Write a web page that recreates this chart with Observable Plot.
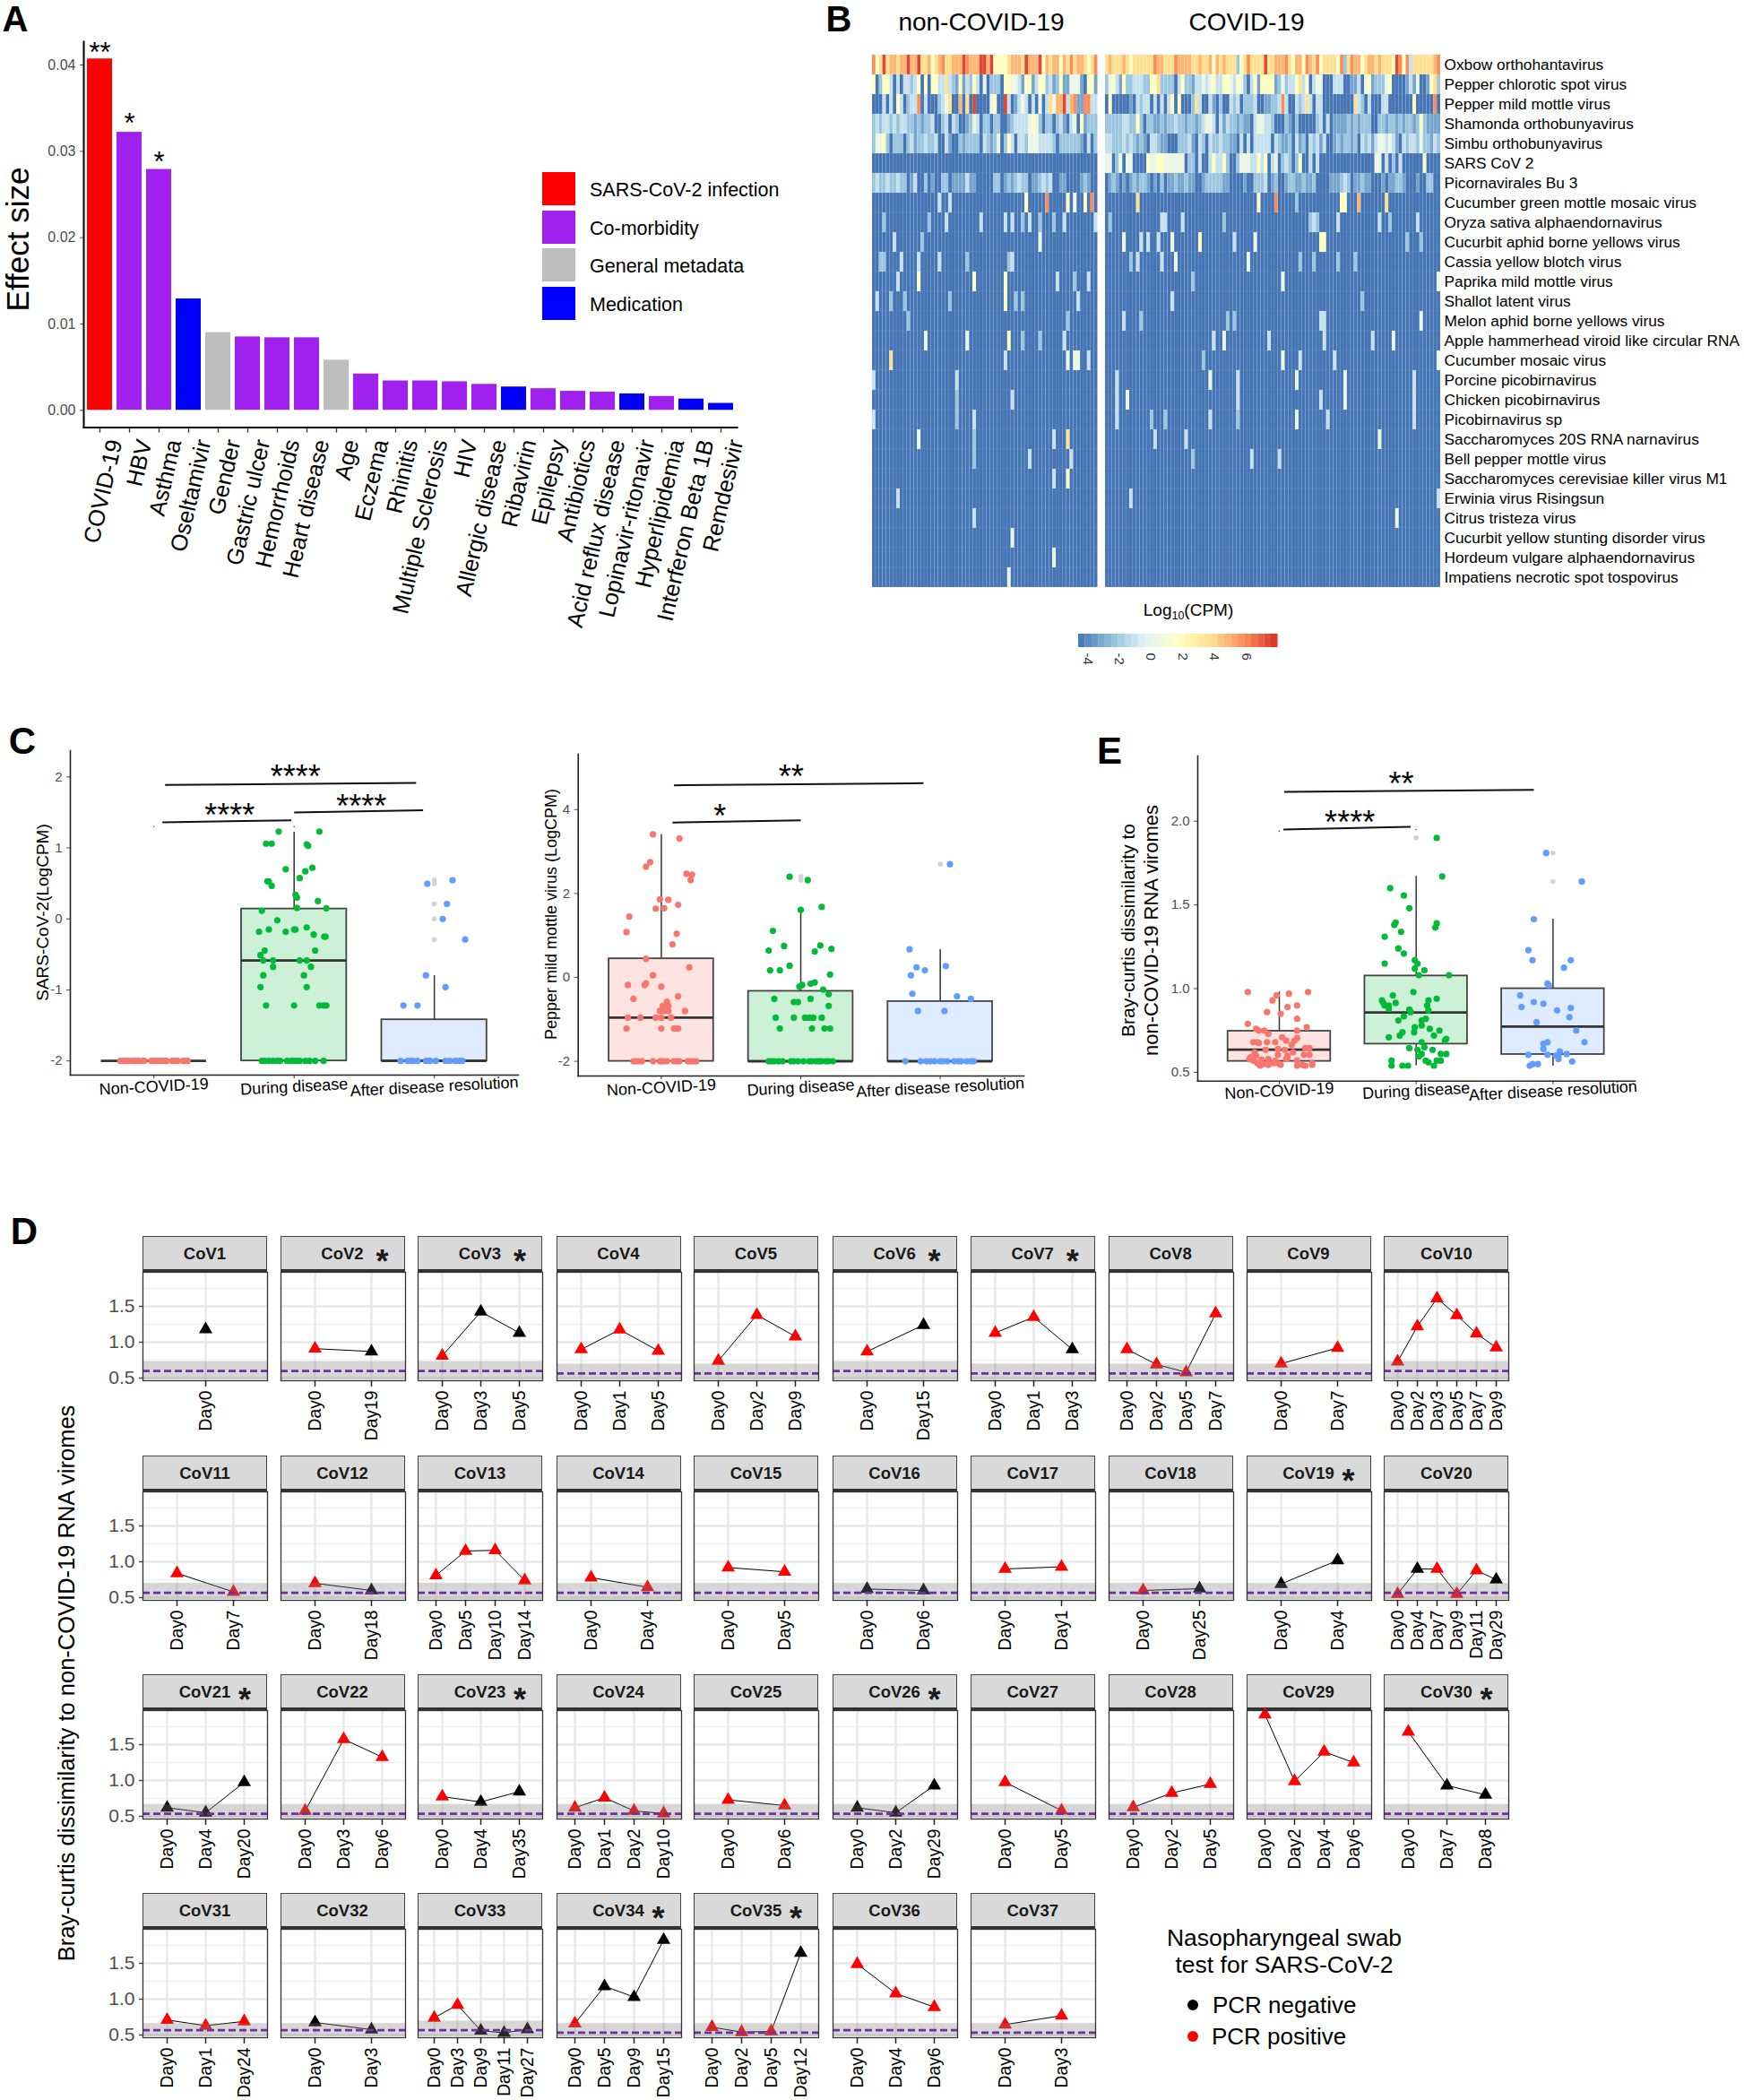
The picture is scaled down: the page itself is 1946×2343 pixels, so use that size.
<!DOCTYPE html>
<html>
<head>
<meta charset="utf-8">
<script src="https://cdn.jsdelivr.net/npm/d3@7"></script>
<script src="https://cdn.jsdelivr.net/npm/@observablehq/plot@0.6"></script>
<style>
html,body{margin:0;padding:0;background:#fff}
#fig{position:relative;width:1946px;height:2343px;overflow:hidden;background:#fff;font-family:'Liberation Sans',Arial,sans-serif;color:#000}
#fig div{position:absolute}
</style>
</head>
<body>
<div id="fig"></div>
<script>
/* ---------- Panel A ---------- */
const effectNames = ["COVID-19","HBV","Asthma","Oseltamivir","Gender","Gastric ulcer","Hemorrhoids","Heart disease","Age","Eczema","Rhinitis","Multiple Sclerosis","HIV","Allergic disease","Ribavirin","Epilepsy","Antibiotics","Acid reflux disease","Lopinavir-ritonavir","Hyperlipidemia","Interferon Beta 1B","Remdesivir"];
const effectValues = [0.0407,0.0322,0.0279,0.0129,0.0090,0.0085,0.0084,0.0084,0.0058,0.0042,0.0034,0.0034,0.0033,0.0030,0.0027,0.0025,0.0022,0.0021,0.0019,0.0016,0.0013,0.0008];
const effectGroups = ["S","C","C","M","G","C","C","C","G","C","C","C","C","C","M","C","C","C","M","C","M","M"];
const effectStars = [["COVID-19",0.0419,"**"],["HBV",0.0337,"*"],["Asthma",0.0292,"*"]];
const groupKeys = ["S","C","G","M"];
const groupLabels = ["SARS-CoV-2 infection","Co-morbidity","General metadata","Medication"];
const groupColors = ["#FF0000","#A020F0","#BEBEBE","#0000FF"];

/* ---------- Panel B ---------- */
const heatRows = ["Oxbow orthohantavirus","Pepper chlorotic spot virus","Pepper mild mottle virus","Shamonda orthobunyavirus","Simbu orthobunyavirus","SARS CoV 2","Picornavirales Bu 3","Cucumber green mottle mosaic virus","Oryza sativa alphaendornavirus","Cucurbit aphid borne yellows virus","Cassia yellow blotch virus","Paprika mild mottle virus","Shallot latent virus","Melon aphid borne yellows virus","Apple hammerhead viroid like circular RNA","Cucumber mosaic virus","Porcine picobirnavirus","Chicken picobirnavirus","Picobirnavirus sp","Saccharomyces 20S RNA narnavirus","Bell pepper mottle virus","Saccharomyces cerevisiae killer virus M1","Erwinia virus Risingsun","Citrus tristeza virus","Cucurbit yellow stunting disorder virus","Hordeum vulgare alphaendornavirus","Impatiens necrotic spot tospovirus"];
const nonCount = 65, covCount = 97;
/* level (0-9) -> Log10(CPM) */
const levelValues = [-4.56,-3.2,-2.2,-1.1,0.4,1.7,3.8,4.9,5.9,7.5];
const denseNon = [
"8569677677"+"9779667567"+"8667779877"+"7997955556"+"7776977795"+"7677576867"+"76568",
"5025530303"+"3235050553"+"3632151325"+"3040222055"+"4431551355"+"2312511444"+"10551",
"0003030530"+"2338030002"+"3460070609"+"0000450093"+"0134303040"+"3647793781"+"18833",
"2323323233"+"2212122300"+"2303200124"+"3022022001"+"2333345420"+"2202310340"+"51222",
"2445202220"+"2312232230"+"0310021222"+"2032124025"+"3033244433"+"3320222222"+"10302",
"0000000000"+"0000000000"+"0000000000"+"0000000000"+"0000000000"+"0000000000"+"00000",
"2322322322"+"0130020100"+"2201111311"+"0000022012"+"1232201123"+"2300110000"+"12100"
];
const denseCov = [
"6766676566"+"6666877666"+"8777766766"+"7576766625"+"6866669667"+"7786577587"+"6856666582"+"6877567767"+"6665985836"+"6666678",
"2453152233"+"3225562222"+"0352213343"+"4533554354"+"2035155551"+"2423356350"+"3440003330"+"0113045122"+"2450000131"+"4001562",
"0500000103"+"2330303035"+"0500026300"+"3102003230"+"2223001122"+"3830032363"+"0330000000"+"0063203000"+"3300000005"+"0000080",
"2222233225"+"2022112122"+"3221221234"+"4303132212"+"1103443320"+"0021020000"+"0230301111"+"2121222002"+"2122121221"+"2521111",
"3322232321"+"2103321100"+"0222310320"+"3223221103"+"0303333303"+"2112031203"+"2313001212"+"2120323134"+"4343103233"+"2422132",
"4402404400"+"0054455444"+"4440220300"+"3533520024"+"4433535034"+"0232025003"+"0300000000"+"0000000044"+"0302030000"+"0050000",
"0121010121"+"2210102011"+"2112110012"+"2222110000"+"1002223012"+"0012211211"+"2000011123"+"2011211000"+"1011221000"+"1002200"
];
/* rows 8..27: [column, level] stripes on the dark-blue ground */
const sparseNon = [
[[19,3],[22,3],[44,5],[50,8],[56,5],[58,4],[61,5],[63,8]],
[[3,2],[16,2],[21,3],[31,3],[38,3],[40,3],[43,2],[45,3],[48,2],[52,2],[55,3],[64,3]],
[[6,3],[14,2],[48,4]],
[[2,2],[3,2],[8,3],[13,3],[19,3],[27,2],[39,2],[40,3]],
[[7,3],[13,5],[29,5],[38,5],[53,3],[58,2],[62,3]],
[[1,3],[5,2],[9,2],[22,2],[38,5],[41,2],[43,2],[59,3]],
[[10,2],[56,2]],
[[15,4],[27,4],[39,5],[43,2],[48,2],[55,3]],
[[5,6],[38,3],[56,4],[58,4],[59,4],[62,3]],
[[0,3],[24,3]],
[[24,2],[40,3]],
[[0,3],[24,2],[29,3]],
[[13,4],[29,2],[52,3],[56,6]],
[[29,2],[45,3],[57,3]],
[[52,3],[56,5]],
[[7,3]],
[[29,3]],
[[40,4]],
[[52,4]],
[[39,4]]
];
const sparseCov = [
[[9,6],[44,5],[49,8],[55,2],[68,5],[69,5],[73,7],[81,6]],
[[1,2],[16,3],[17,3],[22,3],[34,2],[59,2],[60,3],[61,2],[67,3],[79,3],[82,2],[90,3]],
[[5,4],[10,3],[12,3],[15,3],[19,4],[27,5],[37,3],[43,4],[62,5],[63,5],[87,2],[91,2]],
[[7,2],[9,3],[16,3],[20,4],[41,4],[56,2],[60,2],[67,2],[72,2]],
[[25,2],[51,4],[96,4]],
[[19,3],[74,2]],
[[5,3],[10,2],[35,2],[37,2],[62,3],[63,3],[91,4]],
[[31,3],[34,4],[47,3],[63,3],[77,3],[83,4]],
[[28,2],[51,4],[56,3],[66,3],[96,4]],
[[3,3],[30,4],[38,3],[55,4],[69,4],[89,3]],
[[3,3],[6,4],[38,3],[62,3],[69,4],[89,3]],
[[3,3],[13,2],[17,2],[30,3],[38,2],[55,4],[64,3],[89,3]],
[[14,3],[23,3],[79,4]],
[[25,2],[42,3],[50,3]],
[],
[[7,3],[96,3]],
[[84,4]],
[],
[],
[]
];
const colorNodes = [-4.56,-2.47,-0.37,1.72,3.81,5.91,8];
const colorStops = ["#4575B4","#91BFDB","#E0F3F8","#FFFFBF","#FEE090","#FC8D59","#D73027"];
const barTicks = [-4,-2,0,2,4,6];

/* ---------- Panels C and E ---------- */
const boxNames = ["Non-COVID-19","During disease","After disease resolution"];
const dotColors = ["#F8766D","#00BA38","#619CFF"];
const boxFills = ["#FEE3E1","#CCF1D7","#DFEBFF"];

const c1Boxes = [[-2,-2,-2,-2,-2],[-2,-0.585,0.14,-2,1.22],[-2,-2,-1.42,-2,-0.8]];
const c1Floor = -2;
const c1RedFloor = [.76,.78,.80,.82,.85,.87,.89,.92,.93,.98,1.0,1.02,1.04,1.06,1.08,1.09,1.13,1.15,1.17,1.21,1.22,1.24];
const c1GreenFloor = [1.77,1.79,1.82,1.85,1.88,1.90,1.95,1.98,2.0,2.02,2.04,2.08,2.11,2.15,2.21];
const c1BlueFloor = [2.76,2.81,2.83,2.85,2.88,2.94,2.96,2.97,3.01,3.08,3.11,3.15,3.18,3.20];
const c1Red = [];
const c1Green = [[1.89,1.23],[2.18,1.23],[1.80,1.06],[1.84,1.06],[2.09,1.05],[2.10,1.03],[1.94,.70],[2.13,.72],[2.08,.67],[2.04,.575],[1.81,.53],[1.82,.525],[1.84,.465],[2.01,.34],[2.02,.30],[2.17,.25],[2.02,.155],[2.23,.15],[1.77,.115],[1.88,-.02],[2.09,-.12],[1.82,-.15],[1.75,-.18],[1.94,-.18],[2.0,-.15],[2.01,-.15],[2.14,-.22],[2.215,-.25],[2.225,-.25],[1.79,-.445],[2.15,-.445],[1.76,-.51],[1.78,-.585],[1.85,-.585],[2.04,-.585],[2.09,-.585],[1.85,-.675],[2.12,-.675],[1.78,-.795],[2.07,-.795],[1.76,-.96],[2.09,-.96],[1.80,-1.22],[2.0,-1.22],[2.18,-1.22],[2.21,-1.22],[2.23,-1.22]];
const c1Blue = [[2.95,.495],[3.13,.546],[3.09,.21],[3.06,0],[3.22,-.29],[2.94,-.795],[3.08,-.96],[2.78,-1.22],[2.88,-1.22]];
const c1Grey = [[3,.545],[3,.495],[3,.21],[3,0],[3,-.29]];
const c1Specks = [[1,1.3],[2,1.3]];
const c1Sig = [[1.08,1.886,2.87,1.916],[1.06,1.36,1.98,1.39],[2.0,1.50,2.92,1.53]];
const c1Stars = [[2.01,2.07,"****"],[1.54,1.52,"****"],[2.48,1.65,"****"]];

const c2Boxes = [[-2,-0.96,0.445,-2,3.41],[-2,-2,-0.33,-2,1.61],[-2,-2,-0.575,-2,0.665]];
const c2Floor = -2;
const c2RedFloor = [.80,.82,.84,.86,.94,.99,1.0,1.02,1.04,1.09,1.11,1.13,1.19,1.21,1.23,1.25];
const c2GreenFloor = [1.77,1.79,1.81,1.84,1.87,1.93,1.95,1.98,2.02,2.06,2.08,2.11,2.13,2.15,2.18,2.20,2.23];
const c2BlueFloor = [2.75,2.86,2.90,2.93,2.96,3.0,3.02,3.05,3.10,3.13,3.15,3.19,3.22,3.24];
const c2Red = [[.94,3.41],[1.13,3.31],[.92,2.75],[.89,2.64],[1.18,2.47],[1.22,2.45],[1.21,2.32],[.99,1.86],[1.05,1.85],[1.12,1.73],[.96,1.64],[1.02,1.65],[.77,1.45],[.75,1.08],[1.11,1.04],[1.08,.79],[.89,.445],[1.20,.24],[.94,.05],[.76,-.18],[.89,-.14],[.88,-.18],[1.0,-.22],[.80,-.51],[1.12,-.45],[1.04,-.58],[1.01,-.68],[1.05,-.68],[.99,-.80],[1.02,-.80],[1.05,-.80],[1.17,-.80],[.76,-.96],[.85,-.96],[.96,-.96],[1.0,-.96],[1.07,-.96],[.75,-1.22],[1.0,-1.22],[1.09,-1.22],[1.11,-1.22],[1.12,-1.22]];
const c2Green = [[1.92,2.40],[2.05,2.32],[2.15,1.68],[2.0,1.61],[1.80,1.11],[1.88,.75],[2.14,.76],[1.77,.64],[2.10,.62],[2.22,.68],[1.92,.28],[1.78,.17],[1.85,.17],[2.21,.07],[2.10,-.12],[2.07,-.15],[2.01,-.18],[1.99,-.22],[2.16,-.29],[2.20,-.40],[1.81,-.51],[2.07,-.51],[1.95,-.59],[1.98,-.59],[2.20,-.68],[1.82,-.96],[1.95,-.96],[2.03,-.96],[2.06,-.96],[2.09,-.96],[2.15,-.96],[1.85,-1.22],[2.08,-1.22],[2.17,-1.22],[2.21,-1.22]];
const c2Blue = [[3.07,2.70],[2.78,.67],[3.04,.27],[2.83,.24],[2.89,.17],[2.79,.05],[2.80,-.39],[3.12,-.45],[3.22,-.51],[2.84,-.80],[3.03,-.80]];
const c2Grey = [[2,2.40],[2,2.32],[3,2.70]];
const c2Sig = [[1.09,4.58,2.88,4.63],[1.08,3.69,2.0,3.745]];
const c2Stars = [[1.93,4.89,"**"],[1.42,3.96,"*"]];

const eBoxes = [[.566,.636,.746,.53,.98],[.669,.858,1.076,.54,1.67],[.607,.773,1.0,.537,1.415]];
const eRed = [[.77,.98],[.98,.96],[1.07,.97],[1.21,.98],[.95,.93],[1.06,.89],[1.13,.90],[.91,.86],[1.01,.85],[1.13,.82],[.77,.79],[.83,.76],[.85,.75],[.89,.75],[.92,.73],[1.20,.77],[1.13,.75],[1.02,.71],[1.05,.69],[1.13,.705],[1.11,.69],[.81,.68],[.84,.68],[.85,.675],[.91,.68],[.97,.68],[1.09,.665],[1.19,.645],[1.22,.645],[.90,.635],[.99,.64],[1.04,.635],[.83,.60],[1.10,.62],[.99,.605],[1.06,.60],[1.18,.605],[1.22,.605],[.78,.58],[.81,.57],[.87,.575],[.92,.58],[.97,.57],[1.05,.58],[1.06,.585],[1.13,.57],[1.24,.555],[.84,.555],[.88,.55],[.92,.545],[.96,.555],[1.0,.55],[1.01,.545],[1.13,.54],[1.17,.545],[1.19,.54],[1.24,.545],[.86,.54],[.79,.59],[.82,.62]];
const eGreen = [[2.15,1.90],[2.19,1.67],[1.81,1.60],[1.91,1.556],[1.95,1.48],[1.85,1.395],[1.84,1.38],[2.15,1.39],[2.14,1.365],[1.89,1.34],[1.77,1.31],[1.87,1.24],[1.91,1.21],[1.77,1.15],[1.99,1.17],[2.01,1.15],[1.99,1.12],[2.06,1.11],[2.02,1.08],[2.24,1.08],[1.98,.98],[2.15,.94],[1.83,.96],[1.75,.93],[1.76,.915],[1.85,.915],[1.77,.90],[1.80,.90],[1.80,.88],[2.09,.93],[2.08,.90],[2.09,.87],[1.95,.875],[1.96,.86],[1.91,.835],[1.87,.81],[2.04,.81],[2.07,.82],[2.04,.78],[1.99,.77],[1.985,.74],[2.10,.76],[2.17,.75],[1.90,.74],[1.88,.72],[1.80,.71],[2.13,.72],[2.22,.70],[2.21,.69],[2.04,.68],[2.06,.65],[1.95,.645],[2.01,.635],[2.12,.635],[2.04,.61],[2.18,.61],[2.22,.61],[2.02,.595],[2.07,.57],[2.09,.56],[2.15,.57],[2.18,.57],[1.82,.57],[1.82,.54],[1.90,.54],[1.94,.54],[2.13,.54]];
const eBlue = [[2.95,1.81],[3.21,1.64],[2.86,1.415],[2.82,1.23],[3.13,1.17],[2.85,1.17],[3.08,1.125],[2.96,1.03],[2.97,1.02],[2.76,.96],[2.86,.92],[2.93,.91],[2.77,.89],[3.13,.885],[3.03,.87],[3.12,.83],[2.88,.80],[3.17,.75],[3.23,.68],[2.96,.68],[2.93,.67],[2.93,.64],[3.05,.625],[2.82,.605],[2.96,.605],[3.10,.61],[3.02,.60],[3.04,.60],[3.04,.58],[3.14,.565],[2.83,.54],[2.85,.55],[2.89,.55]];
const eGrey = [[2,1.90],[3,1.81],[3,1.64]];
const eSpecks = [[1,1.94],[2,1.95]];
const eSig = [[1.035,2.175,2.86,2.187],[1.03,1.95,1.96,1.966]];
const eStars = [[1.89,2.25,"**"],[1.515,2.02,"****"]];

/* ---------- Panel D ---------- */
const panelNames = ["CoV1","CoV2","CoV3","CoV4","CoV5","CoV6","CoV7","CoV8","CoV9","CoV10","CoV11","CoV12","CoV13","CoV14","CoV15","CoV16","CoV17","CoV18","CoV19","CoV20","CoV21","CoV22","CoV23","CoV24","CoV25","CoV26","CoV27","CoV28","CoV29","CoV30","CoV31","CoV32","CoV33","CoV34","CoV35","CoV36","CoV37"];
const starredPanels = ["CoV2","CoV3","CoV6","CoV7","CoV19","CoV21","CoV23","CoV26","CoV30","CoV34","CoV35"];
const panelDays = [[0],[0,19],[0,3,5],[0,1,5],[0,2,9],[0,15],[0,1,3],[0,2,5,7],[0,7],[0,2,3,5,7,9],
[0,7],[0,18],[0,5,10,14],[0,4],[0,5],[0,6],[0,1],[0,25],[0,4],[0,4,7,9,11,29],
[0,4,20],[0,3,6],[0,4,35],[0,1,2,10],[0,6],[0,2,29],[0,5],[0,2,5],[0,2,4,6],[0,7,8],
[0,1,24],[0,3],[0,3,9,11,27],[0,5,9,15],[0,2,5,12],[0,4,6],[0,3]];
const panelValues = [[1.18],[.91,.87],[.81,1.425,1.13],[.90,1.175,.88],[.74,1.38,1.08],[.87,1.24],[1.13,1.35,.90],[.90,.69,.58,1.40],[.70,.92],[.73,1.22,1.61,1.375,1.12,.925],
[.84,.58],[.70,.60],[.81,1.15,1.16,.74],[.78,.645],[.92,.86],[.62,.60],[.90,.93],[.60,.625],[.69,1.02],[.55,.90,.90,.55,.88,.75],
[.62,.55,.975],[.575,1.575,1.325],[.775,.70,.845],[.62,.76,.575,.54],[.73,.65],[.62,.55,.93],[.975,.58],[.625,.825,.95],[1.92,.99,1.40,1.25],[1.68,.93,.80],
[.71,.63,.69],[.675,.575],[.74,.92,.56,.53,.58],[.66,1.18,1.03,1.825],[.61,.54,.55,1.645],[1.49,1.08,.89],[.645,.77]];
/* p = PCR positive, n = PCR negative, one letter per day */
const panelPcr = ["n","pn","pnn","ppp","ppp","pn","ppn","pppp","pp","pppppp",
"pp","pn","pppp","pp","pp","nn","pp","pn","nn","pnpppn",
"nnn","ppp","pnn","pppp","pp","nnn","pp","ppp","pppp","pnn",
"ppp","nn","ppnnn","pnnn","pppn","ppp","pp"];
const panelBandTop = [.73,.73,.73,.695,.695,.73,.695,.695,.695,.73,
.70,.70,.70,.70,.70,.70,.70,.70,.70,.70,
.667,.667,.667,.667,.667,.667,.667,.667,.667,.667,
.66,.66,.695,.66,.66,.66,.66];
const panelDash = [.598,.598,.598,.565,.565,.598,.565,.565,.565,.598,
.568,.568,.568,.568,.568,.568,.568,.568,.568,.568,
.535,.535,.535,.535,.535,.535,.535,.535,.535,.535,
.568,.568,.568,.532,.532,.568,.532];
const pcrKeys = ["n","p"];
const pcrColors = ["#000000","#FF0000"];
const yMajor = [0.5,1,1.5];
const yMinor = [0.75,1.25,1.75];

/* ---------- helpers ---------- */
const FONT = "'Liberation Sans', Arial, sans-serif";
const fig = document.getElementById("fig");
const baseStyle = {fontFamily: FONT, background: "transparent", overflow: "visible"};
function place(svg, x, y) {
  svg.style.position = "absolute";
  svg.style.left = x + "px";
  svg.style.top = y + "px";
  fig.appendChild(svg);
}
function label(text, x, y, o = {}) {
  const d = document.createElement("div");
  const ax = o.anchor === "start" ? "0%" : "-50%";
  d.innerHTML = text;
  d.style.cssText = `left:${x}px;top:${y}px;white-space:nowrap;font-size:${o.size || 16}px;font-weight:${o.weight || "normal"};color:${o.color || "#000"};line-height:1;` +
    `transform:translate(${ax},-50%) rotate(${o.rotate || 0}deg);`;
  fig.appendChild(d);
  return d;
}
function swatch(x, y, w, h, color, round) {
  const d = document.createElement("div");
  d.style.cssText = `left:${x}px;top:${y}px;width:${w}px;height:${h}px;background:${color};` + (round ? "border-radius:50%;" : "");
  fig.appendChild(d);
}

/* ---------- Panel letters ---------- */
label("A", 17, 21, {size: 40, weight: "bold"});
label("B", 936, 21, {size: 40, weight: "bold"});
label("C", 25, 827, {size: 42, weight: "bold"});
label("D", 27, 1374, {size: 42, weight: "bold"});
label("E", 1238, 838, {size: 42, weight: "bold"});

/* ---------- Panel A plot ---------- */
const effects = effectNames.map((name, i) => ({name, value: effectValues[i], group: effectGroups[i]}));
place(Plot.plot({
  width: 840, height: 760, marginLeft: 93, marginRight: 18, marginTop: 46, marginBottom: 283.5,
  style: baseStyle,
  x: {type: "band", domain: effectNames, paddingInner: 0.16, paddingOuter: 0.09},
  y: {domain: [-0.002, 0.0427]},
  color: {domain: groupKeys, range: groupColors},
  marks: [
    Plot.barY(effects, {x: "name", y: "value", fill: "group"}),
    Plot.text(effectStars, {x: d => d[0], y: d => d[1], text: d => d[2], fontSize: 31, dy: 5, fill: "#000"}),
    Plot.text(effectNames, {x: d => d, y: () => -0.002, text: d => d, rotate: -77, textAnchor: "end", fontSize: 25.5, dx: 17, dy: 14, fill: "#000"}),
    Plot.axisY({ticks: [0, 0.01, 0.02, 0.03, 0.04], tickFormat: d3.format(".2f"), tickSize: 4, fontSize: 16, color: "#4d4d4d", label: null}),
    Plot.axisX({tickFormat: () => "", tickSize: 6, label: null, strokeWidth: 1.3, stroke: "#333"}),
    Plot.frame({anchor: "left", stroke: "#000", strokeWidth: 2}),
    Plot.frame({anchor: "bottom", stroke: "#000", strokeWidth: 2})
  ]
}), 0, 0);
label("Effect size", 19, 267, {size: 35, rotate: -90});
const legendTops = [192, 235, 277, 320];
groupLabels.forEach((t, i) => {
  swatch(605, legendTops[i], 37, 37, groupColors[i]);
  label(t, 658, legendTops[i] + 20.5, {size: 21.5, anchor: "start"});
});

/* ---------- Panel B plot ---------- */
function heatCells(count, dense, sparse) {
  const cells = [];
  dense.forEach((s, r) => { for (let c = 0; c < count; c++) cells.push({col: c, row: heatRows[r], value: levelValues[+s[c]]}); });
  sparse.forEach((stripes, k) => {
    const row = heatRows[k + dense.length];
    const m = new Map(stripes);
    for (let c = 0; c < count; c++) cells.push({col: c, row, value: levelValues[m.get(c) || 0]});
  });
  return cells;
}
const colorScale = {type: "linear", domain: colorNodes, range: colorStops, interpolate: "rgb"};
const cellMark = (cells) => Plot.cell(cells, {x: "col", y: "row", fill: "value", stroke: "#ffffff", strokeOpacity: 0.08, strokeWidth: 0.7});
place(Plot.plot({
  width: 251.5, height: 598, margin: 0, style: baseStyle,
  x: {domain: d3.range(nonCount), axis: null, padding: 0},
  y: {domain: heatRows, axis: null, padding: 0},
  color: colorScale,
  marks: [cellMark(heatCells(nonCount, denseNon, sparseNon))]
}), 973, 59);
place(Plot.plot({
  width: 374 + 340, height: 598, marginLeft: 0, marginTop: 0, marginBottom: 0, marginRight: 340, style: baseStyle,
  x: {domain: d3.range(covCount), axis: null, padding: 0},
  y: {domain: heatRows, padding: 0},
  color: colorScale,
  marks: [
    cellMark(heatCells(covCount, denseCov, sparseCov)),
    Plot.axisY({anchor: "right", tickSize: 0, tickPadding: 4, fontSize: 17.3, label: null, fill: "#000"})
  ]
}), 1232.5, 59);
label("non-COVID-19", 1095, 25, {size: 28});
label("COVID-19", 1391, 25, {size: 28});
label("Log<sub style='font-size:12.5px;line-height:0'>10</sub>(CPM)", 1326, 680, {size: 19});
const barEdges = d3.range(30).map(i => colorNodes[0] + i * (colorNodes[6] - colorNodes[0]) / 30);
place(Plot.plot({
  width: 222.4, height: 50, marginLeft: 0, marginRight: 0, marginTop: 0, marginBottom: 35, style: baseStyle,
  x: {domain: [colorNodes[0], colorNodes[6]]},
  color: colorScale,
  marks: [
    Plot.rect(barEdges, {x1: d => d, x2: d => d + (colorNodes[6] - colorNodes[0]) / 30 + 0.01, fill: d => d + 0.2}),
    Plot.axisX({ticks: barTicks, tickFormat: String, tickSize: 0, tickRotate: 90, tickPadding: 6, fontSize: 15, label: null, fill: "#333"})
  ]
}), 1203, 707);

/* ---------- Box panels C and E ---------- */
function boxPanel(cfg) {
  const boxes = cfg.boxes.map((b, i) => ({i: i + 1, q1: b[0], med: b[1], q3: b[2], lo: b[3], hi: b[4], fill: boxFills[i]}));
  const dots = (pts, color) => Plot.dot(pts, {x: d => d[0], y: d => d[1], r: 3.6, fill: color});
  return Plot.plot({
    width: cfg.width, height: cfg.height, marginLeft: cfg.left, marginRight: cfg.right, marginTop: cfg.top, marginBottom: cfg.bottom,
    style: baseStyle,
    x: {domain: [0.404, 3.6]},
    y: {domain: cfg.y},
    marks: [
      Plot.ruleX(boxes, {x: "i", y1: "lo", y2: "hi", stroke: "#333", strokeWidth: 1.5}),
      Plot.rect(boxes.filter(b => b.q3 > b.q1), {x1: d => d.i - 0.375, x2: d => d.i + 0.375, y1: "q1", y2: "q3", fill: "fill", stroke: "#444", strokeWidth: 1.8}),
      Plot.ruleY(boxes, {y: "med", x1: d => d.i - 0.375, x2: d => d.i + 0.375, stroke: "#333", strokeWidth: 2.8}),
      Plot.dot(cfg.grey, {x: d => d[0], y: d => d[1], r: 2.8, fill: "#D3D3D3"}),
      Plot.dot(cfg.specks || [], {x: d => d[0], y: d => d[1], r: 0.8, fill: "#555"}),
      dots(cfg.red, dotColors[0]), dots(cfg.green, dotColors[1]), dots(cfg.blue, dotColors[2]),
      Plot.link(cfg.sig, {x1: d => d[0], y1: d => d[1], x2: d => d[2], y2: d => d[3], stroke: "#111", strokeWidth: 2}),
      Plot.text(cfg.stars, {x: d => d[0], y: d => d[1], text: d => d[2], fontSize: 36, dy: 6, fill: "#000"}),
      Plot.text(boxNames, {x: (d, i) => i + 1, y: () => cfg.y[0], text: d => d, rotate: -3, fontSize: 18, dy: cfg.labelDy, fill: "#000"}),
      Plot.axisY({ticks: cfg.ticks, tickFormat: cfg.format, tickSize: 4, fontSize: 15, color: "#4d4d4d", label: null}),
      Plot.axisX({ticks: [1, 2, 3], tickFormat: () => "", tickSize: 4, label: null, stroke: "#333"}),
      Plot.frame({anchor: "left", stroke: "#222", strokeWidth: 1.6}),
      Plot.frame({anchor: "bottom", stroke: "#222", strokeWidth: 1.6})
    ]
  });
}
const onFloor = (xs, v) => xs.map(x => [x, v]);
place(boxPanel({
  width: 600, height: 460, left: 78, right: 22, top: 47, bottom: 51, y: [-2.2, 2.37], ticks: [-2,-1,0,1,2], format: String, labelDy: 13,
  boxes: c1Boxes, grey: c1Grey, specks: c1Specks, sig: c1Sig, stars: c1Stars,
  red: c1Red.concat(onFloor(c1RedFloor, c1Floor)), green: c1Green.concat(onFloor(c1GreenFloor, c1Floor)), blue: c1Blue.concat(onFloor(c1BlueFloor, c1Floor))
}), 0, 790);
label("SARS-CoV-2(LogCPM)", 47, 1018, {size: 19, rotate: -90});
place(boxPanel({
  width: 570, height: 460, left: 54.7, right: 18, top: 51, bottom: 50, y: [-2.35, 5.32], ticks: [-2,0,2,4], format: String, labelDy: 13,
  boxes: c2Boxes, grey: c2Grey, sig: c2Sig, stars: c2Stars,
  red: c2Red.concat(onFloor(c2RedFloor, c2Floor)), green: c2Green.concat(onFloor(c2GreenFloor, c2Floor)), blue: c2Blue.concat(onFloor(c2BlueFloor, c2Floor))
}), 590, 790);
label("Pepper mild mottle virus (LogCPM)", 615, 1020, {size: 18, rotate: -90});
place(boxPanel({
  width: 660, height: 460, left: 146, right: 26, top: 53, bottom: 44.3, y: [0.448, 2.389], ticks: [.5,1,1.5,2], format: d3.format(".1f"), labelDy: 11,
  boxes: eBoxes, grey: eGrey, specks: eSpecks, sig: eSig, stars: eStars, red: eRed, green: eGreen, blue: eBlue
}), 1190, 790);
label("Bray-curtis dissimilarity to", 1258, 1038, {size: 21, rotate: -90});
label("non-COVID-19 RNA viromes", 1285, 1038, {size: 22, rotate: -90});

/* ---------- Panel D ---------- */
const colX = [159, 312.5, 466, 620.5, 774, 928.6, 1082.7, 1236.6, 1390.5, 1544.4];
const rowStripTop = [1379, 1624, 1868, 2112];
const panelW = 139, panelH = 121, stripH = 40, leftPad = 45;
panelNames.forEach((name, i) => {
  const rowI = Math.floor(i / 10), colI = i % 10;
  const x0 = colX[colI], stripTop = rowStripTop[rowI];
  const strip = document.createElement("div");
  strip.style.cssText = `left:${x0}px;top:${stripTop}px;width:${panelW}px;height:${stripH}px;box-sizing:border-box;background:#D9D9D9;border:1px solid #444;border-bottom:3px solid #333;`;
  fig.appendChild(strip);
  label(name, x0 + panelW / 2, stripTop + 20, {size: 18.5, weight: "bold", color: "#1a1a1a"});
  if (starredPanels.includes(name)) label("*", x0 + panelW - 25, stripTop + 29, {size: 36, weight: "bold", color: "#1a1a1a"});
  const pts = panelDays[i].map((day, k) => ({day, v: panelValues[i][k], pcr: panelPcr[i][k]}));
  const yAxisMarks = colI === 0 ? [Plot.axisY({ticks: yMajor, tickFormat: d3.format(".1f"), tickSize: 4, fontSize: 21, color: "#4d4d4d", label: null, strokeWidth: 1.5})] : [];
  place(Plot.plot({
    width: leftPad + panelW + 10, height: panelH + 90, marginLeft: leftPad, marginRight: 10, marginTop: 0, marginBottom: 90,
    style: baseStyle,
    x: {type: "point", domain: panelDays[i], padding: 0.6},
    y: {domain: [0.4625, 1.975], axis: colI === 0 ? undefined : null},
    color: {domain: pcrKeys, range: pcrColors},
    marks: [
      Plot.ruleY(yMinor, {stroke: "#F0F0F0", strokeWidth: 1.5}),
      Plot.ruleY(yMajor, {stroke: "#E8E8E8", strokeWidth: 2.5}),
      Plot.ruleX(panelDays[i], {stroke: "#E8E8E8", strokeWidth: 2.5}),
      Plot.line(pts, {x: "day", y: "v", stroke: "#000", strokeWidth: 1}),
      Plot.dot(pts, {x: "day", y: "v", symbol: "triangle", r: 5.6, fill: "pcr"}),
      Plot.rect([panelBandTop[i]], {y1: () => 0.475, y2: d => d, fill: "#808080", fillOpacity: 0.32}),
      Plot.ruleY([panelDash[i]], {stroke: "#7030A0", strokeWidth: 2.8, strokeDasharray: "8,4", insetRight: -3}),
      Plot.frame({stroke: "#333", strokeWidth: 1.3}),
      ...yAxisMarks,
      Plot.axisX({tickRotate: -90, tickSize: 7, tickPadding: 4, fontSize: 19.3, tickFormat: d => "Day" + d, label: null, fill: "#000", stroke: "#222", strokeWidth: 1.5})
    ]
  }), x0 - leftPad, stripTop + stripH);
});
label("Bray-curtis dissimilarity to non-COVID-19 RNA viromes", 75, 1878, {size: 25.5, rotate: -90});
label("Nasopharyngeal swab", 1433, 2162, {size: 26.5});
label("test for SARS-CoV-2", 1433, 2192, {size: 26.5});
swatch(1325, 2231, 12, 12, "#000000", true);
label("PCR negative", 1353, 2237, {size: 26, anchor: "start"});
swatch(1325, 2266, 12, 12, "#FF0000", true);
label("PCR positive", 1352, 2272, {size: 26, anchor: "start"});
</script>
</body>
</html>
